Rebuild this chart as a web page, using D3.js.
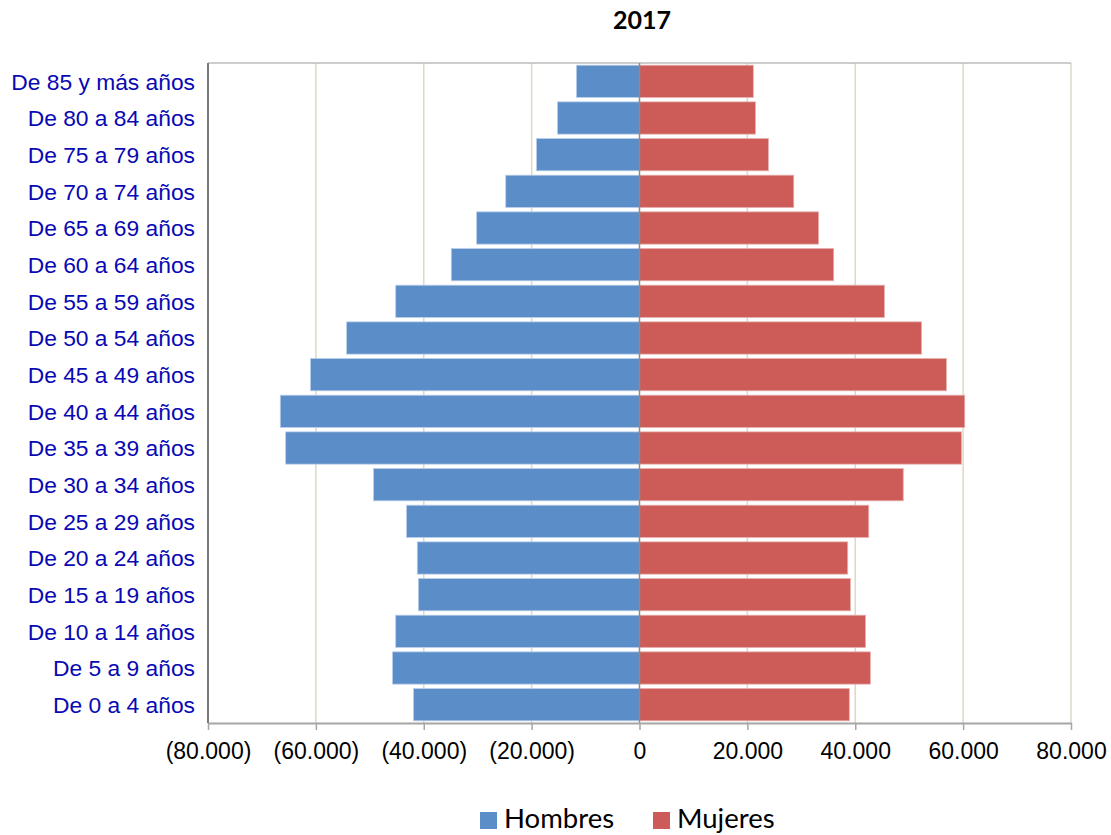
<!DOCTYPE html>
<html>
<head>
<meta charset="utf-8">
<script src="https://cdn.jsdelivr.net/npm/d3@7"></script>
<style>
  body { margin: 0; background: #fff; }
  svg { display: block; }
</style>
</head>
<body>
<svg id="chart" width="1111" height="835"></svg>
<script>
const ageGroups = [
  'De 85 y más años', 'De 80 a 84 años', 'De 75 a 79 años', 'De 70 a 74 años',
  'De 65 a 69 años', 'De 60 a 64 años', 'De 55 a 59 años', 'De 50 a 54 años',
  'De 45 a 49 años', 'De 40 a 44 años', 'De 35 a 39 años', 'De 30 a 34 años',
  'De 25 a 29 años', 'De 20 a 24 años', 'De 15 a 19 años', 'De 10 a 14 años',
  'De 5 a 9 años', 'De 0 a 4 años'
];
const hombres = [11700, 15200, 19100, 24800, 30200, 34900, 45200, 54300, 61000,
  66600, 65600, 49300, 43200, 41200, 41000, 45200, 45800, 41900];
const mujeres = [21100, 21500, 23900, 28600, 33200, 36000, 45400, 52300, 56900,
  60300, 59700, 48900, 42500, 38600, 39100, 41900, 42800, 38900];
const xTicks = [-80000, -60000, -40000, -20000, 0, 20000, 40000, 60000, 80000];
const title = '2017';
const seriesNames = ['Hombres', 'Mujeres'];
const seriesColors = ['#5b8dc9', '#cd5b57'];

const svg = d3.select('#chart');
const pLeft = 208, pRight = 1071, pTop = 63, pBottom = 723;

const x = d3.scaleLinear().domain([-80000, 80000]).range([pLeft, pRight]);
const y = d3.scaleBand().domain(ageGroups).range([pTop, pBottom])
  .paddingInner(0.12).paddingOuter(0.06);

// formato de ticks: miles con punto, negativos entre paréntesis
const fmt = v => {
  const s = d3.format(',')(Math.abs(v)).replace(/,/g, '.');
  return v < 0 ? '(' + s + ')' : s;
};

// title
svg.append('text')
  .attr('x', 642).attr('y', 29)
  .attr('text-anchor', 'middle')
  .style('font-family', 'Lato, "Open Sans", sans-serif')
  .style('font-weight', 'bold')
  .style('font-size', '25px')
  .text(title);

// gridlines
svg.append('g')
  .selectAll('line')
  .data(xTicks.filter(d => d !== 0 && d !== -80000))
  .enter().append('line')
  .attr('x1', d => x(d)).attr('x2', d => x(d))
  .attr('y1', pTop).attr('y2', pBottom)
  .attr('stroke', '#ddd9c4').attr('stroke-width', 1.5);

// top border
svg.append('line')
  .attr('x1', pLeft).attr('x2', pRight)
  .attr('y1', pTop).attr('y2', pTop)
  .attr('stroke', '#bdbdbd').attr('stroke-width', 1.5);

// bars
const bars = svg.append('g');
bars.selectAll('.h')
  .data(hombres)
  .enter().append('rect')
  .attr('x', d => x(-d))
  .attr('y', (d, i) => y(ageGroups[i]))
  .attr('width', d => x(0) - x(-d))
  .attr('height', y.bandwidth())
  .attr('fill', seriesColors[0])
  .attr('stroke', '#b9cfe9').attr('stroke-width', 0.8);

bars.selectAll('.m')
  .data(mujeres)
  .enter().append('rect')
  .attr('x', x(0))
  .attr('y', (d, i) => y(ageGroups[i]))
  .attr('width', d => x(d) - x(0))
  .attr('height', y.bandwidth())
  .attr('fill', seriesColors[1])
  .attr('stroke', '#e6b0ae').attr('stroke-width', 0.8);

// zero line
svg.append('line')
  .attr('x1', x(0)).attr('x2', x(0))
  .attr('y1', pTop).attr('y2', pBottom)
  .attr('stroke', '#8c8c8c').attr('stroke-width', 1.5);

// left axis line
svg.append('line')
  .attr('x1', pLeft).attr('x2', pLeft)
  .attr('y1', pTop).attr('y2', pBottom)
  .attr('stroke', '#7a7a7a').attr('stroke-width', 2);

// bottom axis
const xAxis = d3.axisBottom(x).tickValues(xTicks).tickFormat(fmt)
  .tickSize(7).tickSizeOuter(0).tickPadding(13);
const gx = svg.append('g')
  .attr('transform', `translate(0,${pBottom})`)
  .call(xAxis);
gx.select('.domain').attr('stroke', '#a6a6a6').attr('stroke-width', 2);
gx.selectAll('.tick line').attr('stroke', '#a6a6a6').attr('stroke-width', 1.5);
gx.selectAll('.tick text')
  .attr('fill', '#000')
  .style('font-family', '"Liberation Sans", Arial, sans-serif')
  .style('font-size', '23px');

// category labels
svg.append('g')
  .selectAll('text')
  .data(ageGroups)
  .enter().append('text')
  .attr('x', 195)
  .attr('y', d => y(d) + y.bandwidth() / 2)
  .attr('dy', '0.36em')
  .attr('text-anchor', 'end')
  .attr('fill', '#0808b4')
  .style('font-family', '"Liberation Sans", Arial, sans-serif')
  .style('font-size', '22.8px')
  .text(d => d);

// legend
const legendX = [480, 653];
const legend = svg.append('g');
seriesNames.forEach((name, i) => {
  legend.append('rect')
    .attr('x', legendX[i]).attr('y', 812)
    .attr('width', 17).attr('height', 17)
    .attr('fill', seriesColors[i]);
  legend.append('text')
    .attr('x', legendX[i] + 24).attr('y', 828)
    .style('font-family', 'Lato, "Open Sans", sans-serif')
    .style('font-size', '27.5px')
    .attr('fill', '#000')
    .text(name);
});
</script>
</body>
</html>
